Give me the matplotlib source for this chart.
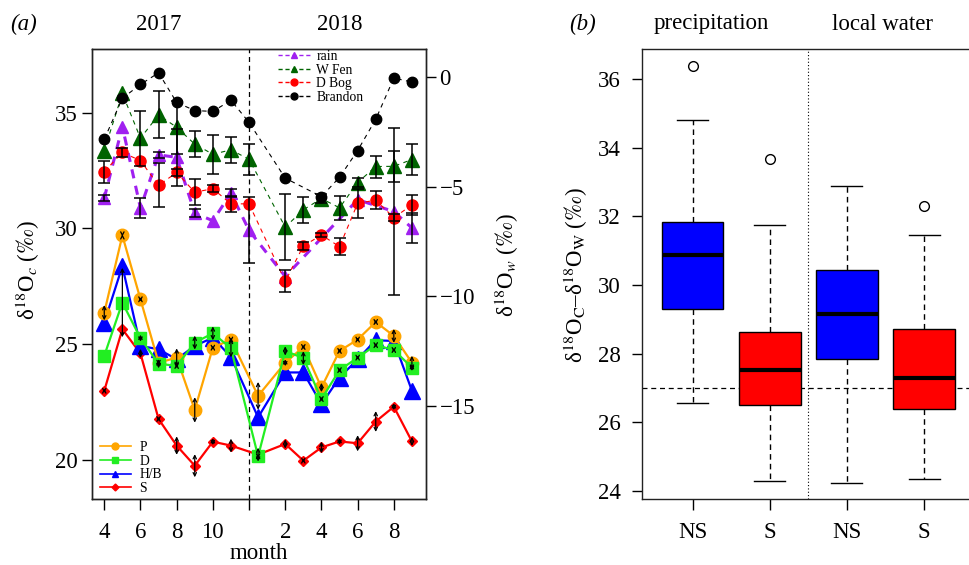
import numpy as np
import matplotlib
matplotlib.use('Agg')
import matplotlib.pyplot as plt
from matplotlib.lines import Line2D

plt.rcParams['font.family'] = ['Liberation Serif', 'DejaVu Serif']
plt.rcParams['mathtext.fontset'] = 'stix'

nan = np.nan

# ---- panel (a) data ----
# month index: 2017 Apr..Dec = 4..12, 2018 Feb..Sep = 14..21
x_water = [4, 5, 6, 7, 8, 9, 10, 11, 12, 14, 15, 16, 17, 18, 19, 20, 21]
x_carb = [4, 5, 6, 7, 8, 9, 10, 11, 12.5, 14, 15, 16, 17, 18, 19, 20, 21]
xtick_pos = [4, 6, 8, 10, 12, 14, 16, 18, 20]
xtick_lab = ['4', '6', '8', '10', '', '2', '4', '6', '8']

# d18O of water (right axis)
rain = [-5.53, -2.27, -5.98, -3.56, -3.67, -6.21, -6.56, -5.3, -7.0,
        -9.1, nan, nan, nan, -5.6, nan, -6.14, -6.89]
rain_err = [0.15, 0, 0.45, 0.12, 1.3, 0.2, 0, 0.2, 1.5,
            0, nan, nan, nan, 0, nan, 3.8, 0.7]
wfen = [-3.36, -0.76, -2.8, -1.74, -2.3, -3.07, -3.53, -3.33, -3.76,
        -6.85, -6.06, -5.55, -5.97, -4.82, -4.09, -4.08, -3.77]
wfen_err = [0, 0, 1.25, 1.07, 1.2, 0.6, 0.88, 0.6, 0.7,
            1.5, 0.6, 0.2, 0.55, 0.2, 0.5, 0.72, 0.7]
dbog = [-4.32, -3.45, -3.82, -4.95, -4.36, -5.26, -5.1, -5.79, -5.79,
        -9.32, -7.71, -7.21, -7.74, -5.77, -5.62, -6.42, -5.84]
dbog_err = [0.5, 0.2, 0, 1.0, 0.15, 0.6, 0.15, 0.35, 0,
            0.5, 0.2, 0.1, 0.4, 0.65, 0.4, 0.15, 0.45]
brandon = [-2.85, -0.98, -0.35, 0.18, -1.17, -1.54, -1.58, -1.07, -2.08,
           -4.62, nan, -5.46, -4.58, -3.36, -1.94, -0.06, -0.24]

# d18O of carbonate (left axis)
P = [26.36, 29.7, 26.94, 24.2, 24.42, 22.16, 24.85, 25.2, 22.77,
     24.2, 24.88, 23.13, 24.71, 25.2, 25.96, 25.36, 24.2]
P_err = [0.33, 0.05, 0.1, 0.1, 0.4, 0.55, 0.1, 0.1, 0.6,
         0.15, 0.1, 0.2, 0.1, 0.1, 0.1, 0.3, 0.3]
D = [24.5, 26.8, 25.26, 24.16, 24.06, 25.07, 25.47, 24.83, 20.16,
     24.71, 24.4, 22.63, 23.88, 24.42, 24.96, 24.75, 23.99]
D_err = [0, 1.5, 0.15, 0.2, 0.1, 0.3, 0.3, 0.4, 0.1,
         0.2, 0.3, 0.1, 0.1, 0.1, 0.1, 0.1, 0.15]
HB = [25.93, 28.37, 24.93, 24.78, 24.35, 24.93, 25.28, 24.45, 21.84,
      23.78, 23.78, 22.41, 23.56, 24.35, 25.17, 25.14, 22.99]
S = [22.99, 25.65, 24.6, 21.77, 20.62, 19.75, 20.79, 20.62, 20.23,
     20.69, 19.97, 20.54, 20.8, 20.72, 21.66, 22.3, 20.8]
S_err = [0.1, 0, 0.2, 0.1, 0.4, 0.5, 0.15, 0.3, 0.3,
         0.2, 0.1, 0.25, 0.15, 0.35, 0.45, 0.15, 0.2]

# ---- panel (b) data ----
box_labels = ['NS', 'S', 'NS', 'S']
box_colors = ['#0000ff', '#ff0000', '#0000ff', '#ff0000']
box_lo = [26.57, 24.28, 24.22, 24.35]
box_q1 = [29.31, 26.5, 27.83, 26.38]
box_med = [30.86, 27.52, 29.15, 27.29]
box_q3 = [31.84, 28.63, 30.44, 28.72]
box_hi = [34.8, 31.75, 32.89, 31.45]
box_out = [[36.37], [33.66], [], [32.3]]
group_names = ['precipitation', 'local water']

purple = '#a020f0'
dkgreen = '#006400'
orange = '#ffa500'
green = '#22ee22'
FS = 16.5

fig = plt.figure(figsize=(9.69, 5.65), dpi=100)

# ================= panel (a) =================
ax = fig.add_axes([0.0949, 0.1163, 0.3444, 0.7964])
ax2 = ax.twinx()

ax.set_xlim(3.32, 21.76)
ax.set_ylim(18.3, 37.74)
ax2.set_ylim(-19.25, 1.25)

ax.axvline(12, color='black', lw=0.9, ls=(0, (4, 3)), zorder=1)


def draw_line(axis, xs, ys, **kw):
    xs = np.asarray(xs, float)
    ys = np.asarray(ys, float)
    ok = ~np.isnan(ys)
    return axis.plot(xs[ok], ys[ok], **kw)


# carbonate series
draw_line(ax, x_carb, S, color='red', lw=1.6, marker='D', ms=5.5, zorder=3)
draw_line(ax, x_carb, HB, color='blue', lw=1.6, marker='^', ms=11, zorder=3)
draw_line(ax, x_carb, P, color=orange, lw=1.6, marker='o', ms=9, zorder=3)
draw_line(ax, x_carb, D, color=green, lw=1.6, marker='s', ms=8.5, zorder=3)

for vals, errs in [(P, P_err), (D, D_err), (S, S_err)]:
    for xv, yv, ev in zip(x_carb, vals, errs):
        if ev > 0:
            ax.annotate('', xy=(xv, yv + ev), xytext=(xv, yv - ev),
                        arrowprops=dict(arrowstyle='<->', lw=0.9, color='black',
                                        shrinkA=0, shrinkB=0, mutation_scale=6),
                        zorder=5)

# water series
draw_line(ax2, x_water, rain, color=purple, lw=2.2, ls=(0, (3, 2.5)),
          marker='^', ms=8.5, zorder=3)
draw_line(ax2, x_water, wfen, color=dkgreen, lw=0.8, ls=(0, (4, 4)),
          marker='^', ms=10, zorder=3)
draw_line(ax2, x_water, dbog, color='red', lw=0.8, ls=(0, (4, 4)),
          marker='o', ms=8, zorder=3)
draw_line(ax2, x_water, brandon, color='black', lw=0.8, ls=(0, (4, 4)),
          marker='o', ms=7.5, zorder=3)

for vals, errs in [(rain, rain_err), (wfen, wfen_err), (dbog, dbog_err)]:
    vals = np.asarray(vals, float)
    errs = np.asarray(errs, float)
    ok = ~np.isnan(vals) & (np.nan_to_num(errs) > 0)
    ax2.errorbar(np.asarray(x_water)[ok], vals[ok], yerr=errs[ok], fmt='none',
                 ecolor='black', elinewidth=1.1, capsize=4.5, capthick=1.1,
                 zorder=4)

ax.set_xticks(xtick_pos)
ax.set_xticklabels(xtick_lab)
ax.set_yticks([20, 25, 30, 35])
ax2.set_yticks([0, -5, -10, -15])
ax2.set_yticklabels(['0', '\u22125', '\u221210', '\u221215'])
ax.tick_params(axis='x', direction='out', length=8, width=1, labelsize=FS, pad=8)
ax.tick_params(axis='y', direction='out', length=7, width=1, labelsize=FS, pad=3)
ax2.tick_params(axis='y', direction='out', length=7, width=1, labelsize=FS, pad=3)

ax.set_xlabel('month', fontsize=FS, labelpad=0)
ax.set_ylabel('δ$^{18}$O$_{c}$ ($\\mathit{‰}$)', fontsize=FS)
ax.yaxis.set_label_coords(-0.15, 0.51)
ax2.set_ylabel('δ$^{18}$O$_{w}$ ($\\mathit{‰}$)', fontsize=FS)
ax2.yaxis.set_label_coords(1.2, 0.52)

for a in (ax, ax2):
    for sp in a.spines.values():
        sp.set_linewidth(1.0)
        sp.set_color('#222222')

leg_carb = [Line2D([], [], color=orange, lw=1.2, marker='o', ms=5),
            Line2D([], [], color=green, lw=1.2, marker='s', ms=5),
            Line2D([], [], color='blue', lw=1.2, marker='^', ms=5),
            Line2D([], [], color='red', lw=1.2, marker='D', ms=3.5)]
ax.legend(leg_carb, ['P', 'D', 'H/B', 'S'], loc='lower left',
          bbox_to_anchor=(-0.005, -0.012), frameon=False, fontsize=9.8,
          handlelength=2.3, labelspacing=0.05, handletextpad=0.6,
          borderpad=0.2)

leg_water = [Line2D([], [], color=purple, lw=1, ls=(0, (3, 2)), marker='^', ms=5),
             Line2D([], [], color=dkgreen, lw=1, ls=(0, (3, 2)), marker='^', ms=5),
             Line2D([], [], color='red', lw=1, ls=(0, (3, 2)), marker='o', ms=5),
             Line2D([], [], color='black', lw=1, ls=(0, (3, 2)), marker='o', ms=5)]
ax2.legend(leg_water, ['rain', 'W Fen', 'D Bog', 'Brandon'], loc='upper left',
           bbox_to_anchor=(0.53, 1.02), frameon=False, fontsize=9.8,
           handlelength=2.3, labelspacing=0.05, handletextpad=0.5,
           borderpad=0.2)

fig.text(10 / 969, 1 - 24 / 565, '(a)', fontsize=FS, style='italic', va='center')
fig.text(159 / 969, 1 - 24 / 565, '2017', fontsize=FS, ha='center', va='center')
fig.text(340 / 969, 1 - 24 / 565, '2018', fontsize=FS, ha='center', va='center')

# ================= panel (b) =================
bx = fig.add_axes([0.6622, 0.1163, 0.344, 0.7964])
stats = []
for i in range(len(box_labels)):
    stats.append(dict(med=box_med[i], q1=box_q1[i], q3=box_q3[i],
                      whislo=box_lo[i], whishi=box_hi[i], fliers=box_out[i]))
res = bx.bxp(stats, positions=[1, 2, 3, 4], widths=0.8, patch_artist=True,
             capwidths=0.4,
             boxprops=dict(edgecolor='black', linewidth=1.0),
             whiskerprops=dict(color='black', linestyle=(0, (4, 3)), linewidth=1.0),
             capprops=dict(color='black', linewidth=1.0),
             medianprops=dict(color='black', linewidth=3.0),
             flierprops=dict(marker='o', markerfacecolor='none',
                             markeredgecolor='black', markersize=7,
                             markeredgewidth=1.0))
for patch, col in zip(res['boxes'], box_colors):
    patch.set_facecolor(col)

bx.axhline(27, color='black', lw=0.9, ls=(0, (4, 3)), zorder=0.5)
bx.axvline(2.5, color='black', lw=0.8, ls=(0, (1, 2)), zorder=0.5)
bx.set_xlim(0.34, 4.66)
bx.set_ylim(23.75, 36.87)
bx.set_yticks([24, 26, 28, 30, 32, 34, 36])
bx.set_xticks([1, 2, 3, 4])
bx.set_xticklabels(box_labels)
bx.tick_params(axis='x', direction='out', length=8, width=1, labelsize=FS, pad=8)
bx.tick_params(axis='y', direction='out', length=7, width=1, labelsize=FS, pad=8)
bx.set_ylabel('δ$^{18}$O$_{\\rm C}$–δ$^{18}$O$_{\\rm W}$ ($\\mathit{‰}$)', fontsize=FS)
bx.yaxis.set_label_coords(-0.155, 0.5)
for sp in bx.spines.values():
    sp.set_linewidth(1.0)
    sp.set_color('#222222')

fig.text(569 / 969, 1 - 24 / 565, '(b)', fontsize=FS, style='italic', va='center')
fig.text(711 / 969, 1 - 24 / 565, group_names[0], fontsize=FS, ha='center', va='center')
fig.text(882 / 969, 1 - 24 / 565, group_names[1], fontsize=FS, ha='center', va='center')

fig.savefig('out.png', dpi=100)
